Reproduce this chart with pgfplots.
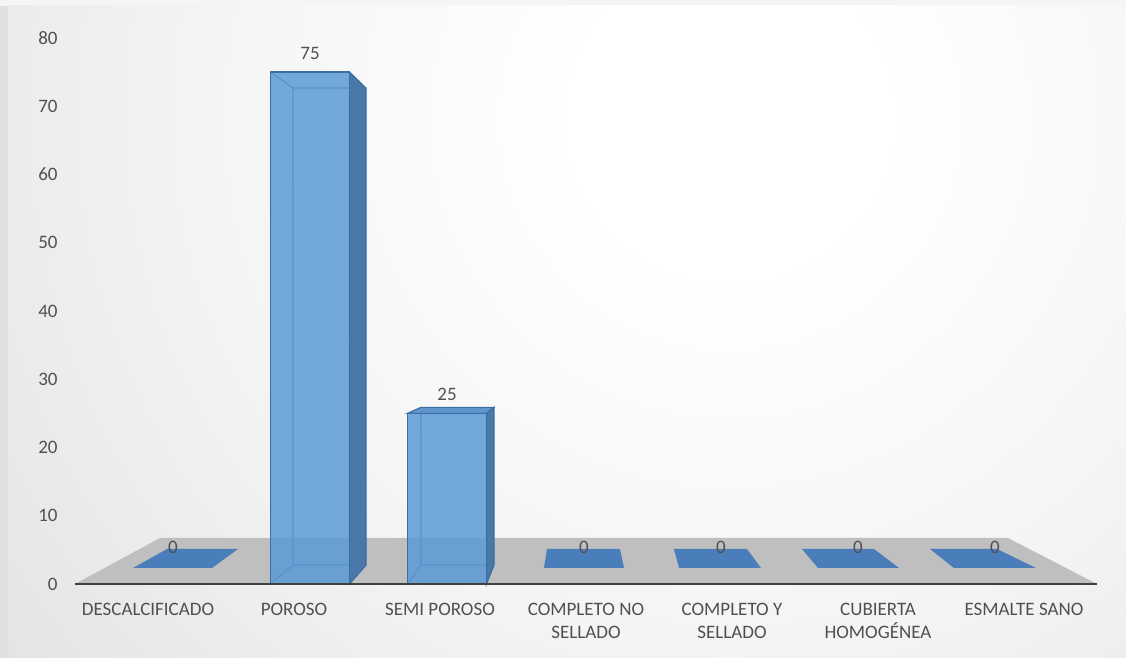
\documentclass[border=0pt]{standalone}
\usepackage{pgfplots}
\pgfplotsset{compat=1.18}
\usepackage{pgfplotstable}
\usepackage{fontspec}
\setmainfont{Carlito}
\definecolor{txt}{HTML}{505050}
\definecolor{barfront}{HTML}{5B9BD5}
\definecolor{barside}{HTML}{4A78A8}
\definecolor{bartop}{HTML}{5F95CC}
\definecolor{baredge}{HTML}{3A6EA5}
\definecolor{flatbar}{HTML}{4A7EBB}
\definecolor{floorgray}{HTML}{BFBFBF}
\definecolor{axisgray}{HTML}{404040}
\definecolor{bgmid}{HTML}{F4F4F4}
\definecolor{bgout}{HTML}{BBBBBB}
\pgfdeclareradialshading{bgshade}{\pgfpoint{0bp}{0bp}}{color(0bp)=(white); color(4bp)=(white); color(14bp)=(bgmid); color(50bp)=(bgout)}

\pgfplotstableread{
idx pos value
0 0.1712 0
1 1.1096 75
2 2.0480 25
3 2.9864 0
4 3.9248 0
5 4.8632 0
6 5.8016 0
}\datatable

\begin{document}
\begin{tikzpicture}
\useasboundingbox (0,0) rectangle (563pt,329pt);
\fill[white!88!black] (0,0) rectangle (563pt,329pt);
\fill[white!96!black] (0,326pt) rectangle (563pt,329pt);
\begin{scope}
\clip (4pt,0pt) rectangle (563pt,326pt);
\shade[shading=bgshade] (365pt,270pt) circle (470pt);
\end{scope}
\begin{axis}[
  at={(37.5pt,37pt)}, anchor=south west,
  scale only axis, width=511pt, height=273pt,
  xmin=-0.5, xmax=6.5, ymin=0, ymax=80,
  clip=false, axis on top,
  axis x line*=bottom, axis y line*=left,
  x axis line style={draw=axisgray, line width=1.3pt, -},
  y axis line style={draw=none},
  ytick={0,10,...,80},
  xtick={0,1,2,3,4,5,6},
  xticklabels={DESCALCIFICADO, POROSO, SEMI POROSO, {COMPLETO NO\\SELLADO}, {COMPLETO Y\\SELLADO}, {CUBIERTA\\HOMOGÉNEA}, ESMALTE SANO},
  major tick length=0pt, tick style={draw=none},
  ticklabel style={font=\fontsize{9.5}{11.35}\selectfont, text=txt},
  xticklabel style={anchor=north, align=center, inner sep=0pt, yshift=-9.3pt},
  yticklabel style={anchor=east, inner sep=0pt, xshift=-8.5pt},
  /pgf/number format/assume math mode=true,
  unbounded coords=jump,
]
% floor
\addplot[fill=floorgray, draw=none] coordinates {(-0.5,0) (0.0822,6.74) (5.8904,6.74) (6.5,0)} -- cycle;
% zero-value bars (flat)
\addplot[fill=flatbar, draw=none] coordinates {(-0.1027,2.344) (0.1301,5.128) (0.6164,5.128) (0.4384,2.344)} -- cycle;
\addplot[fill=flatbar, draw=none] coordinates {(2.7123,2.344) (2.7329,5.128) (3.2329,5.128) (3.2603,2.344)} -- cycle;
\addplot[fill=flatbar, draw=none] coordinates {(3.6370,2.344) (3.6027,5.128) (4.1027,5.128) (4.1986,2.344)} -- cycle;
\addplot[fill=flatbar, draw=none] coordinates {(4.5890,2.344) (4.4795,5.128) (4.9726,5.128) (5.1438,2.344)} -- cycle;
\addplot[fill=flatbar, draw=none] coordinates {(5.5205,2.344) (5.3562,5.128) (5.8151,5.128) (6.0822,2.344)} -- cycle;
% back edges of the transparent bars
\addplot[draw=baredge, line width=0.6pt] coordinates {(0.9932,2.78) (0.9932,72.66) (1.4932,72.66) (nan,nan) (0.8391,0) (0.9932,2.78) (1.4932,2.78) (nan,nan) (0.8391,75) (0.9932,72.66)};
\addplot[draw=baredge, line width=0.6pt] coordinates {(1.8699,2.78) (1.8699,25.88) (nan,nan) (1.7775,0) (1.8699,2.78) (2.3699,2.78)};
% side faces
\addplot[fill=barside, draw=baredge, line width=0.6pt] coordinates {(1.3801,0) (1.4932,2.78) (1.4932,72.66) (1.3801,75)} -- cycle;
\addplot[fill=barside, draw=baredge, line width=0.6pt] coordinates {(2.3185,0) (2.3699,2.78) (2.3699,25.88) (2.3185,25)} -- cycle;
% top face of SEMI POROSO
\addplot[fill=bartop, draw=baredge, line width=0.6pt] coordinates {(1.7775,25) (2.3185,25) (2.3699,25.88) (1.8699,25.88)} -- cycle;
% front faces
\addplot[ybar, bar width=39.5pt, bar shift=0pt, fill=barfront, fill opacity=0.85, draw=baredge, line width=0.8pt, restrict y to domain=0.5:1000] table[x=pos, y=value] {\datatable};
% value labels
\addplot[draw=none, nodes near coords, point meta=explicit,
  nodes near coords style={anchor=base, inner sep=0pt, text=txt, font=\fontsize{9.5}{11}\selectfont}]
  table[x=pos, y expr={ifthenelse(\thisrow{value}>0, \thisrow{value}+1.9, 4.54)}, meta=value] {\datatable};
\end{axis}
\end{tikzpicture}
\end{document}
